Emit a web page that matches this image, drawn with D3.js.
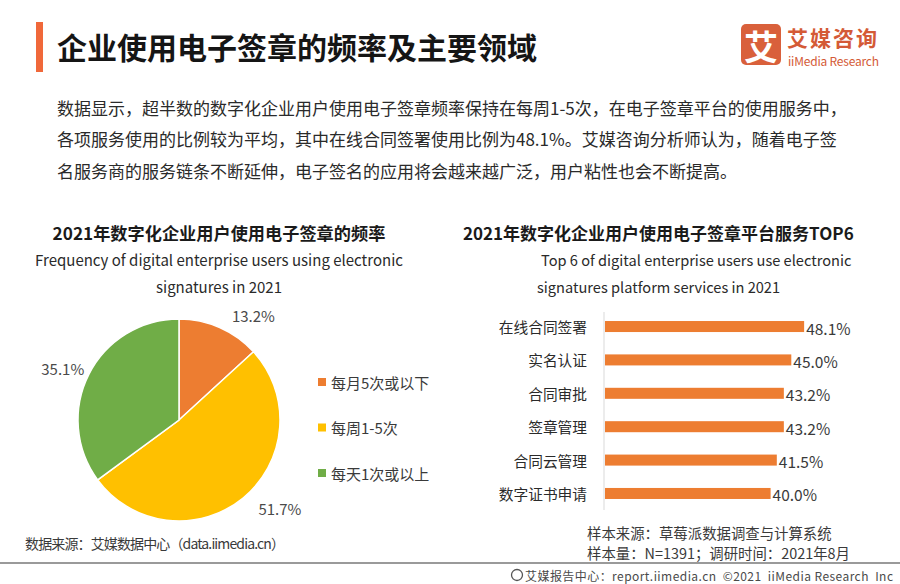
<!DOCTYPE html>
<html><head><meta charset="utf-8">
<script src="https://cdn.jsdelivr.net/npm/d3@7/dist/d3.min.js"></script>
<style>
html,body{margin:0;padding:0;background:#fff;}
svg{display:block;font-family:"Noto Sans CJK SC","Noto Sans",sans-serif;}
</style></head>
<body>
<svg id="c" width="900" height="584"></svg>
<script>
// ---- data ----
const pieCategories = ["每月5次或以下", "每周1-5次", "每天1次或以上"];
const pieValues = [13.2, 51.7, 35.1];
const barCategories = ["在线合同签署", "实名认证", "合同审批", "签章管理", "合同云管理", "数字证书申请"];
const barValues = [48.1, 45.0, 43.2, 43.2, 41.5, 40.0];
const mainTitle = "企业使用电子签章的频率及主要领域";
const paragraph = [
  "数据显示，超半数的数字化企业用户使用电子签章频率保持在每周1-5次，在电子签章平台的使用服务中，",
  "各项服务使用的比例较为平均，其中在线合同签署使用比例为48.1%。艾媒咨询分析师认为，随着电子签",
  "名服务商的服务链条不断延伸，电子签名的应用将会越来越广泛，用户粘性也会不断提高。"
];
const pieTitle = ["2021年数字化企业用户使用电子签章的频率", "Frequency of digital enterprise users using electronic", "signatures in 2021"];
const barTitle = ["2021年数字化企业用户使用电子签章平台服务TOP6", "Top 6 of digital enterprise users use electronic", "signatures platform services in 2021"];
const sourceLeft = "数据来源：艾媒数据中心（data.iimedia.cn）";
const sourceRight = ["样本来源：草莓派数据调查与计算系统", "样本量：N=1391；调研时间：2021年8月"];
const footer = "艾媒报告中心：report.iimedia.cn  ©2021  iiMedia Research  Inc";

const svg = d3.select("#c");
const orange = "#ED7D31";
const pieColors = ["#ED7D31", "#FFC000", "#70AD47"];

// ---- header ----
svg.append("rect").attr("x", 36).attr("y", 22).attr("width", 7).attr("height", 50).attr("fill", "#F0683A");
svg.append("text").attr("x", 57).attr("y", 46).attr("dominant-baseline", "central")
  .attr("font-size", 30).attr("font-weight", 700).attr("fill", "#151515").text(mainTitle);

// logo
svg.append("rect").attr("x", 741).attr("y", 24).attr("width", 40).attr("height", 41).attr("rx", 5).attr("fill", "#D9603B");
svg.append("text").attr("x", 761).attr("y", 45).attr("text-anchor", "middle").attr("dominant-baseline", "central")
  .attr("font-size", 34).attr("font-weight", 700).attr("fill", "#fff").text("艾");
svg.append("text").attr("x", 787).attr("y", 37).attr("dominant-baseline", "central")
  .attr("font-size", 21).attr("font-weight", 700).attr("fill", "#D45A36").attr("textLength", 90).text("艾媒咨询");
svg.append("text").attr("x", 788).attr("y", 60).attr("dominant-baseline", "central")
  .attr("font-size", 12).attr("fill", "#D45A36").attr("textLength", 91).text("iiMedia Research");

// paragraph
svg.append("g").selectAll("text").data(paragraph).join("text")
  .attr("x", 57).attr("y", (d, i) => 107 + i * 31.5).attr("dominant-baseline", "central")
  .attr("font-size", 17).attr("fill", "#2a2a2a").text(d => d);

// ---- chart titles ----
const tl = svg.append("g");
tl.selectAll("text").data(pieTitle).join("text")
  .attr("x", 219).attr("y", (d, i) => i === 0 ? 232 : 259 + (i - 1) * 27)
  .attr("text-anchor", "middle").attr("dominant-baseline", "central")
  .attr("font-size", (d, i) => i === 0 ? 17.2 : 15).attr("font-weight", (d, i) => i === 0 ? 700 : 400)
  .attr("fill", (d, i) => i === 0 ? "#1a1a1a" : "#2a2a2a").text(d => d);
const tr = svg.append("g");
tr.selectAll("text").data(barTitle).join("text")
  .attr("x", (d, i) => i === 0 ? 463 : (i === 1 ? 541 : 537)).attr("y", (d, i) => i === 0 ? 232 : 259 + (i - 1) * 27)
  .attr("dominant-baseline", "central")
  .attr("font-size", (d, i) => i === 0 ? 17 : 14.6).attr("font-weight", (d, i) => i === 0 ? 700 : 400)
  .attr("fill", (d, i) => i === 0 ? "#1a1a1a" : "#2a2a2a").text(d => d);

// ---- pie ----
const cx = 179, cy = 420, r = 101;
const pieGen = d3.pie().sort(null).value(d => d)(pieValues);
const arc = d3.arc().innerRadius(0).outerRadius(r);
const pg = svg.append("g").attr("transform", `translate(${cx},${cy})`);
pg.selectAll("path").data(pieGen).join("path")
  .attr("d", arc).attr("fill", (d, i) => pieColors[i]).attr("stroke", "#fff").attr("stroke-width", 1.5);
const labR = 114;
pg.selectAll("text").data(pieGen).join("text")
  .each(function(d) {
    const a = (d.startAngle + d.endAngle) / 2;
    const s = Math.sin(a), c = -Math.cos(a);
    d3.select(this).attr("x", labR * s + 7).attr("y", labR * c)
      .attr("text-anchor", s > 0 ? "start" : "end");
  })
  .attr("dominant-baseline", "central").attr("font-size", 15).attr("fill", "#4a4a4a")
  .text(d => d.data.toFixed(1) + "%");

// legend
const lg = svg.append("g");
const legY = d3.scalePoint().domain(pieCategories).range([382, 473]);
lg.selectAll("rect").data(pieCategories).join("rect")
  .attr("x", 318).attr("y", d => legY(d) - 4).attr("width", 8).attr("height", 8).attr("fill", (d, i) => pieColors[i]);
lg.selectAll("text").data(pieCategories).join("text")
  .attr("x", 331).attr("y", d => legY(d)).attr("dominant-baseline", "central")
  .attr("font-size", 15).attr("fill", "#3a3a3a").text(d => d);

// ---- bars ----
const x = d3.scaleLinear().domain([0, 50]).range([604, 811]);
const y = d3.scaleBand().domain(barCategories).range([310, 510]).paddingInner(0.67).paddingOuter(0.33);
const bg = svg.append("g");
bg.append("line").attr("x1", x(0)).attr("x2", x(0)).attr("y1", 312).attr("y2", 510)
  .attr("stroke", "#d9d9d9").attr("stroke-width", 1);
bg.selectAll("rect").data(barValues).join("rect")
  .attr("x", x(0) + 1).attr("y", (d, i) => y(barCategories[i]))
  .attr("width", d => x(d) - x(0)).attr("height", y.bandwidth()).attr("fill", orange);
bg.selectAll("text.v").data(barValues).join("text").attr("class", "v")
  .attr("x", d => x(d) + 3).attr("y", (d, i) => y(barCategories[i]) + y.bandwidth() / 2 + 1)
  .attr("dominant-baseline", "central").attr("font-size", 15.5).attr("fill", "#3a3a3a")
  .text(d => d.toFixed(1) + "%");
bg.selectAll("text.c").data(barCategories).join("text").attr("class", "c")
  .attr("x", 587).attr("y", d => y(d) + y.bandwidth() / 2).attr("text-anchor", "end")
  .attr("dominant-baseline", "central").attr("font-size", 14.7).attr("fill", "#2a2a2a").text(d => d);

// ---- footer ----
svg.append("text").attr("x", 25).attr("y", 543).attr("dominant-baseline", "central")
  .attr("font-size", 14).attr("fill", "#3a3a3a").attr("textLength", 260).text(sourceLeft);
svg.append("g").selectAll("text").data(sourceRight).join("text")
  .attr("x", 587).attr("y", (d, i) => 532 + i * 20).attr("dominant-baseline", "central")
  .attr("font-size", 14.4).attr("fill", "#3a3a3a").text(d => d);
svg.append("line").attr("x1", 0).attr("x2", 900).attr("y1", 563).attr("y2", 563)
  .attr("stroke", "#9a9a9a").attr("stroke-width", 2);
svg.append("circle").attr("cx", 517).attr("cy", 575).attr("r", 5.5).attr("fill", "none").attr("stroke", "#555").attr("stroke-width", 1.3);
svg.append("text").attr("x", 525).attr("y", 575).attr("dominant-baseline", "central")
  .attr("font-size", 12).attr("fill", "#4a4a4a").attr("textLength", 368)
  .style("white-space", "pre").text(footer);
</script>
</body></html>
